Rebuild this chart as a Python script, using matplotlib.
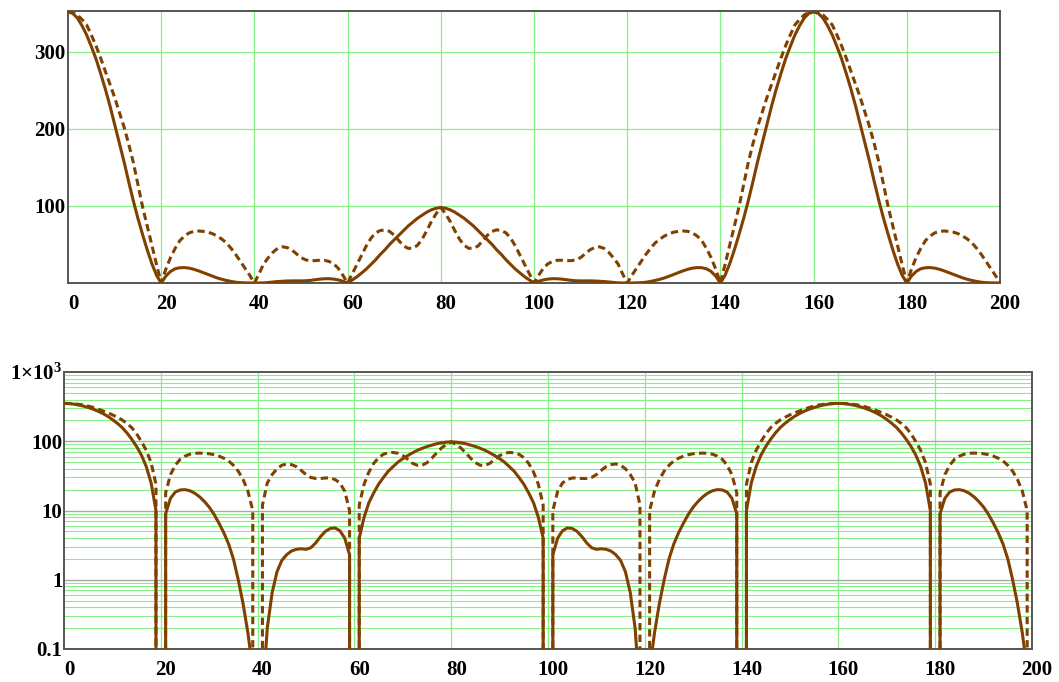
import matplotlib
matplotlib.use("Agg")
import matplotlib.pyplot as plt
import matplotlib.transforms as mtransforms
from matplotlib.ticker import FixedLocator, NullFormatter

# x samples (degrees) shared by both curves
x = list(range(0, 201))

# solid curve
solid = [
    352, 350, 344, 334, 322, 307, 291, 272, 252, 230,
    206, 182, 158, 132, 107, 84, 63, 43, 25, 10,
    0, 9, 15, 18.5, 19.8, 20, 19.3, 17.8, 15.8, 13.5,
    11.2, 8.8, 6.6, 4.8, 3.3, 2.0, 1.0, 0.45, 0.17, 0.05,
    0, 0.02, 0.2, 0.65, 1.3, 1.9, 2.3, 2.6, 2.75, 2.8,
    2.75, 2.9, 3.4, 4.2, 5.0, 5.5, 5.6, 5.1, 4.0, 2.3,
    0, 4, 8, 13, 18, 24, 30, 37, 43, 50,
    56, 62, 68, 74, 79, 84, 88, 92, 95, 97,
    98, 97, 95, 92, 88, 84, 79, 74, 68, 62,
    56, 50, 43, 37, 30, 24, 18, 13, 8, 4,
    0, 2.3, 4.0, 5.1, 5.6, 5.5, 5.0, 4.2, 3.4, 2.9,
    2.75, 2.8, 2.75, 2.6, 2.3, 1.9, 1.3, 0.65, 0.2, 0.02,
    0, 0.05, 0.17, 0.45, 1.0, 2.0, 3.3, 4.8, 6.6, 8.8,
    11.2, 13.5, 15.8, 17.8, 19.3, 20, 19.8, 18.5, 15, 9,
    0, 10, 25, 43, 63, 84, 107, 132, 158, 182,
    206, 230, 252, 272, 291, 307, 322, 334, 344, 350,
    352, 350, 344, 334, 322, 307, 291, 272, 252, 230,
    206, 182, 158, 132, 107, 84, 63, 43, 25, 10,
    0, 9, 15, 18.5, 19.8, 20, 19.3, 17.8, 15.8, 13.5,
    11.2, 8.8, 6.6, 4.8, 3.3, 2.0, 1.0, 0.45, 0.17, 0.05,
    0,
]

# dashed curve
dashed = [
    352, 351, 348, 342, 335, 322, 308, 292, 275, 258,
    241, 222, 203, 181, 157, 128, 99, 74, 49, 24,
    0, 18, 33, 45, 55, 61, 65, 67, 67.5, 67,
    66, 64, 61, 57, 52, 45, 37, 28, 19, 10,
    0, 12, 25, 33, 40, 45, 47, 46, 43, 38,
    33, 30, 29, 29, 29.5, 29.5, 28, 25, 19, 10,
    0, 12, 24, 36, 48, 58, 65, 68, 69, 67,
    62, 55, 48, 45, 45, 49, 57, 68, 80, 90,
    98, 90, 80, 68, 57, 49, 45, 45, 48, 55,
    62, 67, 69, 68, 65, 58, 48, 36, 24, 12,
    0, 10, 19, 25, 28, 29.5, 29.5, 29, 29, 30,
    33, 38, 43, 46, 47, 45, 40, 33, 25, 12,
    0, 10, 19, 28, 37, 45, 52, 57, 61, 64,
    66, 67, 67.5, 67, 65, 61, 55, 45, 33, 18,
    0, 24, 49, 74, 99, 128, 157, 181, 203, 222,
    241, 258, 275, 292, 308, 322, 335, 342, 348, 351,
    352, 351, 348, 342, 335, 322, 308, 292, 275, 258,
    241, 222, 203, 181, 157, 128, 99, 74, 49, 24,
    0, 18, 33, 45, 55, 61, 65, 67, 67.5, 67,
    66, 64, 61, 57, 52, 45, 37, 28, 19, 10,
    0,
]

xticks = [0, 20, 40, 60, 80, 100, 120, 140, 160, 180, 200]
lin_yticks = [100, 200, 300]
log_yticks = [0.1, 1, 10, 100, 1000]
log_ylabels = ["0.1", "1", "10", "100", "1\u00d710$^{3}$"]

brown = "#804000"
green = "#86f086"
grey = "#a8a8a8"
frame = "#555555"
fs = 15

plt.rcParams["font.family"] = ["Liberation Serif", "DejaVu Serif"]
plt.rcParams["font.weight"] = "bold"
plt.rcParams["mathtext.fontset"] = "custom"
plt.rcParams["mathtext.rm"] = "Liberation Serif:bold"
plt.rcParams["mathtext.it"] = "Liberation Serif:bold"
plt.rcParams["mathtext.bf"] = "Liberation Serif:bold"

W, H = 1059, 682
fig = plt.figure(figsize=(W / 100, H / 100), dpi=100)

def box(left, top, right, bottom):
    return [left / W, 1 - bottom / H, (right - left) / W, (bottom - top) / H]

ax1 = fig.add_axes(box(68, 11, 1000, 283))
ax2 = fig.add_axes(box(64, 372, 1032, 649))

def style(ax, xpad, ypad):
    for s in ax.spines.values():
        s.set_color(frame)
        s.set_linewidth(1.4)
    ax.set_xlim(0, 200)
    ax.set_xticks(xticks)
    ax.tick_params(axis="both", which="both", length=0)
    ax.tick_params(axis="x", pad=xpad)
    ax.tick_params(axis="y", pad=ypad)
    ax.set_xticklabels([str(t) for t in xticks], fontsize=fs, fontweight="bold")
    off = mtransforms.ScaledTranslation(5 / 100, 0, fig.dpi_scale_trans)
    for lab in ax.get_xticklabels():
        lab.set_transform(lab.get_transform() + off)
    for xv in xticks[1:-1]:
        ax.axvline(xv, color=green, lw=0.9, zorder=1)

# top: linear scale
ax1.plot(x, dashed, color=brown, lw=2.2, dashes=(2.4, 1.4), zorder=3)
ax1.plot(x, solid, color=brown, lw=2.2, zorder=4)
ax1.set_ylim(0, 353)
ax1.set_yticks(lin_yticks)
ax1.set_yticklabels([str(t) for t in lin_yticks], fontsize=fs, fontweight="bold")
for yv in lin_yticks:
    ax1.axhline(yv, color=green, lw=0.9, zorder=1)
style(ax1, 8, 2)

# bottom: log scale
ax2.set_yscale("log")
ax2.plot(x, dashed, color=brown, lw=2.2, dashes=(2.4, 1.4), zorder=3)
ax2.plot(x, solid, color=brown, lw=2.2, zorder=4)
ax2.set_ylim(0.1, 1000)
ax2.yaxis.set_major_locator(FixedLocator(log_yticks))
ax2.set_yticklabels(log_ylabels, fontsize=fs, fontweight="bold")
ax2.yaxis.set_minor_formatter(NullFormatter())
for dec in [0.1, 1, 10, 100]:
    for m in range(2, 10):
        ax2.axhline(dec * m, color=green, lw=0.8, zorder=1)
for yv in [1, 10, 100]:
    ax2.axhline(yv, color=grey, lw=1.0, zorder=2)
style(ax2, 8, 1)

fig.savefig("out.png", dpi=100)
